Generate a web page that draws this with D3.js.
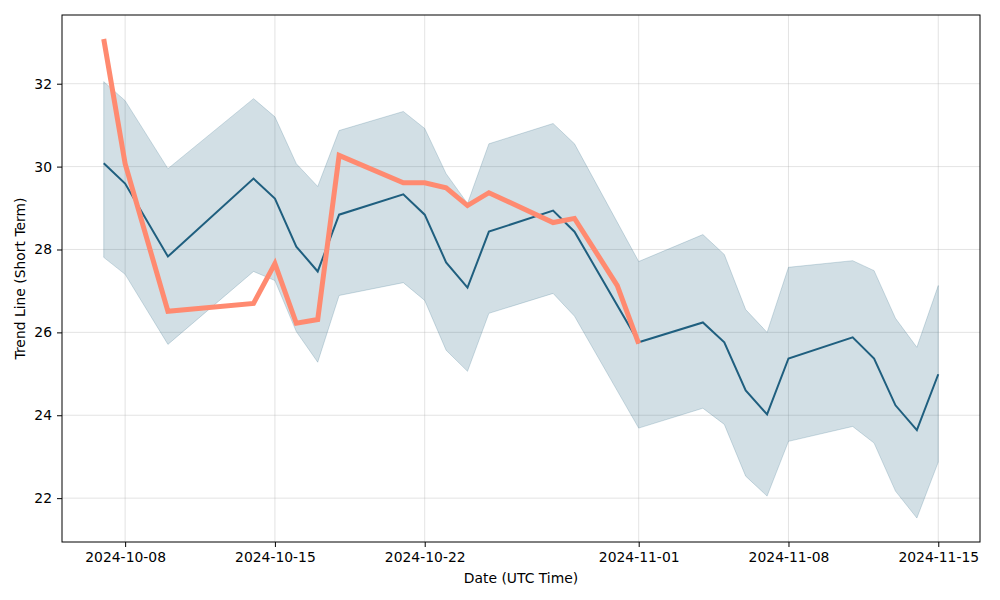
<!DOCTYPE html>
<html><head><meta charset="utf-8">
<script src="https://cdn.jsdelivr.net/npm/d3@7"></script>
<style>body{margin:0;background:#fff;} text{font-family:"DejaVu Sans",sans-serif;}</style>
</head><body><svg id="c" width="1000" height="600"></svg>
<script>
const dates = ["2024-10-07","2024-10-08","2024-10-10","2024-10-14","2024-10-15","2024-10-16","2024-10-17","2024-10-18","2024-10-21","2024-10-22","2024-10-23","2024-10-24","2024-10-25","2024-10-28","2024-10-29","2024-11-01","2024-11-04","2024-11-05","2024-11-06","2024-11-07","2024-11-08","2024-11-11","2024-11-12","2024-11-13","2024-11-14","2024-11-15"];
const meanVals = [30.08,29.59,27.83,29.71,29.23,28.07,27.47,28.84,29.33,28.84,27.69,27.08,28.43,28.94,28.43,25.76,26.24,25.76,24.60,24.02,25.37,25.88,25.37,24.24,23.64,24.99];
const upperVals = [32.05,31.59,29.95,31.64,31.20,30.07,29.52,30.87,31.33,30.92,29.83,29.11,30.55,31.04,30.55,27.71,28.36,27.88,26.55,26.00,27.57,27.73,27.49,26.34,25.64,27.13];
const lowerVals = [27.81,27.40,25.71,27.47,27.25,26.02,25.28,26.89,27.20,26.77,25.57,25.06,26.46,26.94,26.39,23.69,24.17,23.78,22.53,22.05,23.37,23.73,23.33,22.17,21.52,22.87];
const trendDates = ["2024-10-07","2024-10-08","2024-10-10","2024-10-14","2024-10-15","2024-10-16","2024-10-17","2024-10-18","2024-10-21","2024-10-22","2024-10-23","2024-10-24","2024-10-25","2024-10-28","2024-10-29","2024-10-31","2024-11-01"];
const trendVals = [33.08,30.07,26.51,26.70,27.66,26.22,26.31,30.27,29.61,29.61,29.49,29.06,29.37,28.65,28.75,27.13,25.73];
const xTickLabels = ["2024-10-08","2024-10-15","2024-10-22","2024-11-01","2024-11-08","2024-11-15"];
const yTickVals = [22,24,26,28,30,32];

const parse = d3.utcParse("%Y-%m-%d");
const svg = d3.select("#c");
const m = {l:62, t:15, r:20, b:58};
const W = 1000 - m.l - m.r, H = 600 - m.t - m.b;
const g = svg.append("g").attr("transform", `translate(${m.l},${m.t})`);
const FS = 13.9;

const x0 = parse(dates[0]).getTime(), x1 = parse(dates[dates.length-1]).getTime();
const xpad = (x1 - x0) * 0.05;
const x = d3.scaleUtc().domain([new Date(x0 - xpad), new Date(x1 + xpad)]).range([0, W]);
const allY = upperVals.concat(lowerVals, meanVals, trendVals);
const ymin = d3.min(allY), ymax = d3.max(allY), ypad = (ymax - ymin) * 0.05;
const y = d3.scaleLinear().domain([ymin - ypad, ymax + ypad]).range([H, 0]);

// grid
const xt = xTickLabels.map(parse);
g.append("g").selectAll("line").data(xt).join("line")
  .attr("x1", d => x(d)).attr("x2", d => x(d)).attr("y1", 0).attr("y2", H)
  .attr("stroke", "#b0b0b0").attr("stroke-opacity", 0.45).attr("stroke-width", 0.8);
g.append("g").selectAll("line").data(yTickVals).join("line")
  .attr("y1", d => y(d)).attr("y2", d => y(d)).attr("x1", 0).attr("x2", W)
  .attr("stroke", "#b0b0b0").attr("stroke-opacity", 0.45).attr("stroke-width", 0.8);

// band
const band = dates.map((d, i) => ({d: parse(d), lo: lowerVals[i], hi: upperVals[i]}));
g.append("path").datum(band)
  .attr("d", d3.area().x(d => x(d.d)).y0(d => y(d.lo)).y1(d => y(d.hi)))
  .attr("fill", "#1f5f7f").attr("fill-opacity", 0.2)
  .attr("stroke", "#1f5f7f").attr("stroke-opacity", 0.2).attr("stroke-width", 1);

// mean line
const mean = dates.map((d, i) => ({d: parse(d), v: meanVals[i]}));
g.append("path").datum(mean)
  .attr("d", d3.line().x(d => x(d.d)).y(d => y(d.v)))
  .attr("fill", "none").attr("stroke", "#1f5f7f").attr("stroke-width", 2);

// trend line
const trend = trendDates.map((d, i) => ({d: parse(d), v: trendVals[i]}));
g.append("path").datum(trend)
  .attr("d", d3.line().x(d => x(d.d)).y(d => y(d.v)))
  .attr("fill", "none").attr("stroke", "#ff8a70").attr("stroke-width", 5)
  .attr("stroke-linejoin", "miter").attr("stroke-linecap", "butt");

// axes
const xAxis = g.append("g").attr("transform", `translate(0,${H})`)
  .call(d3.axisBottom(x).tickValues(xt).tickFormat(d3.utcFormat("%Y-%m-%d")).tickSize(5).tickPadding(5));
const yAxis = g.append("g")
  .call(d3.axisLeft(y).tickValues(yTickVals).tickFormat(d3.format("d")).tickSize(5).tickPadding(5));
[xAxis, yAxis].forEach(a => {
  a.select(".domain").remove();
  a.selectAll("text").attr("font-size", FS).attr("fill", "#000").style("font-family", "DejaVu Sans");
  a.selectAll("line").attr("stroke", "#000").attr("stroke-width", 1);
});

g.append("rect").attr("width", W).attr("height", H).attr("fill", "none").attr("stroke", "#000").attr("stroke-width", 1);

svg.append("text").attr("x", m.l + W/2).attr("y", 583).attr("text-anchor", "middle")
  .attr("font-size", FS).text("Date (UTC Time)");
svg.append("text").attr("transform", `translate(25,${m.t + H/2}) rotate(-90)`).attr("text-anchor", "middle")
  .attr("font-size", FS).text("Trend Line (Short Term)");
</script></body></html>
